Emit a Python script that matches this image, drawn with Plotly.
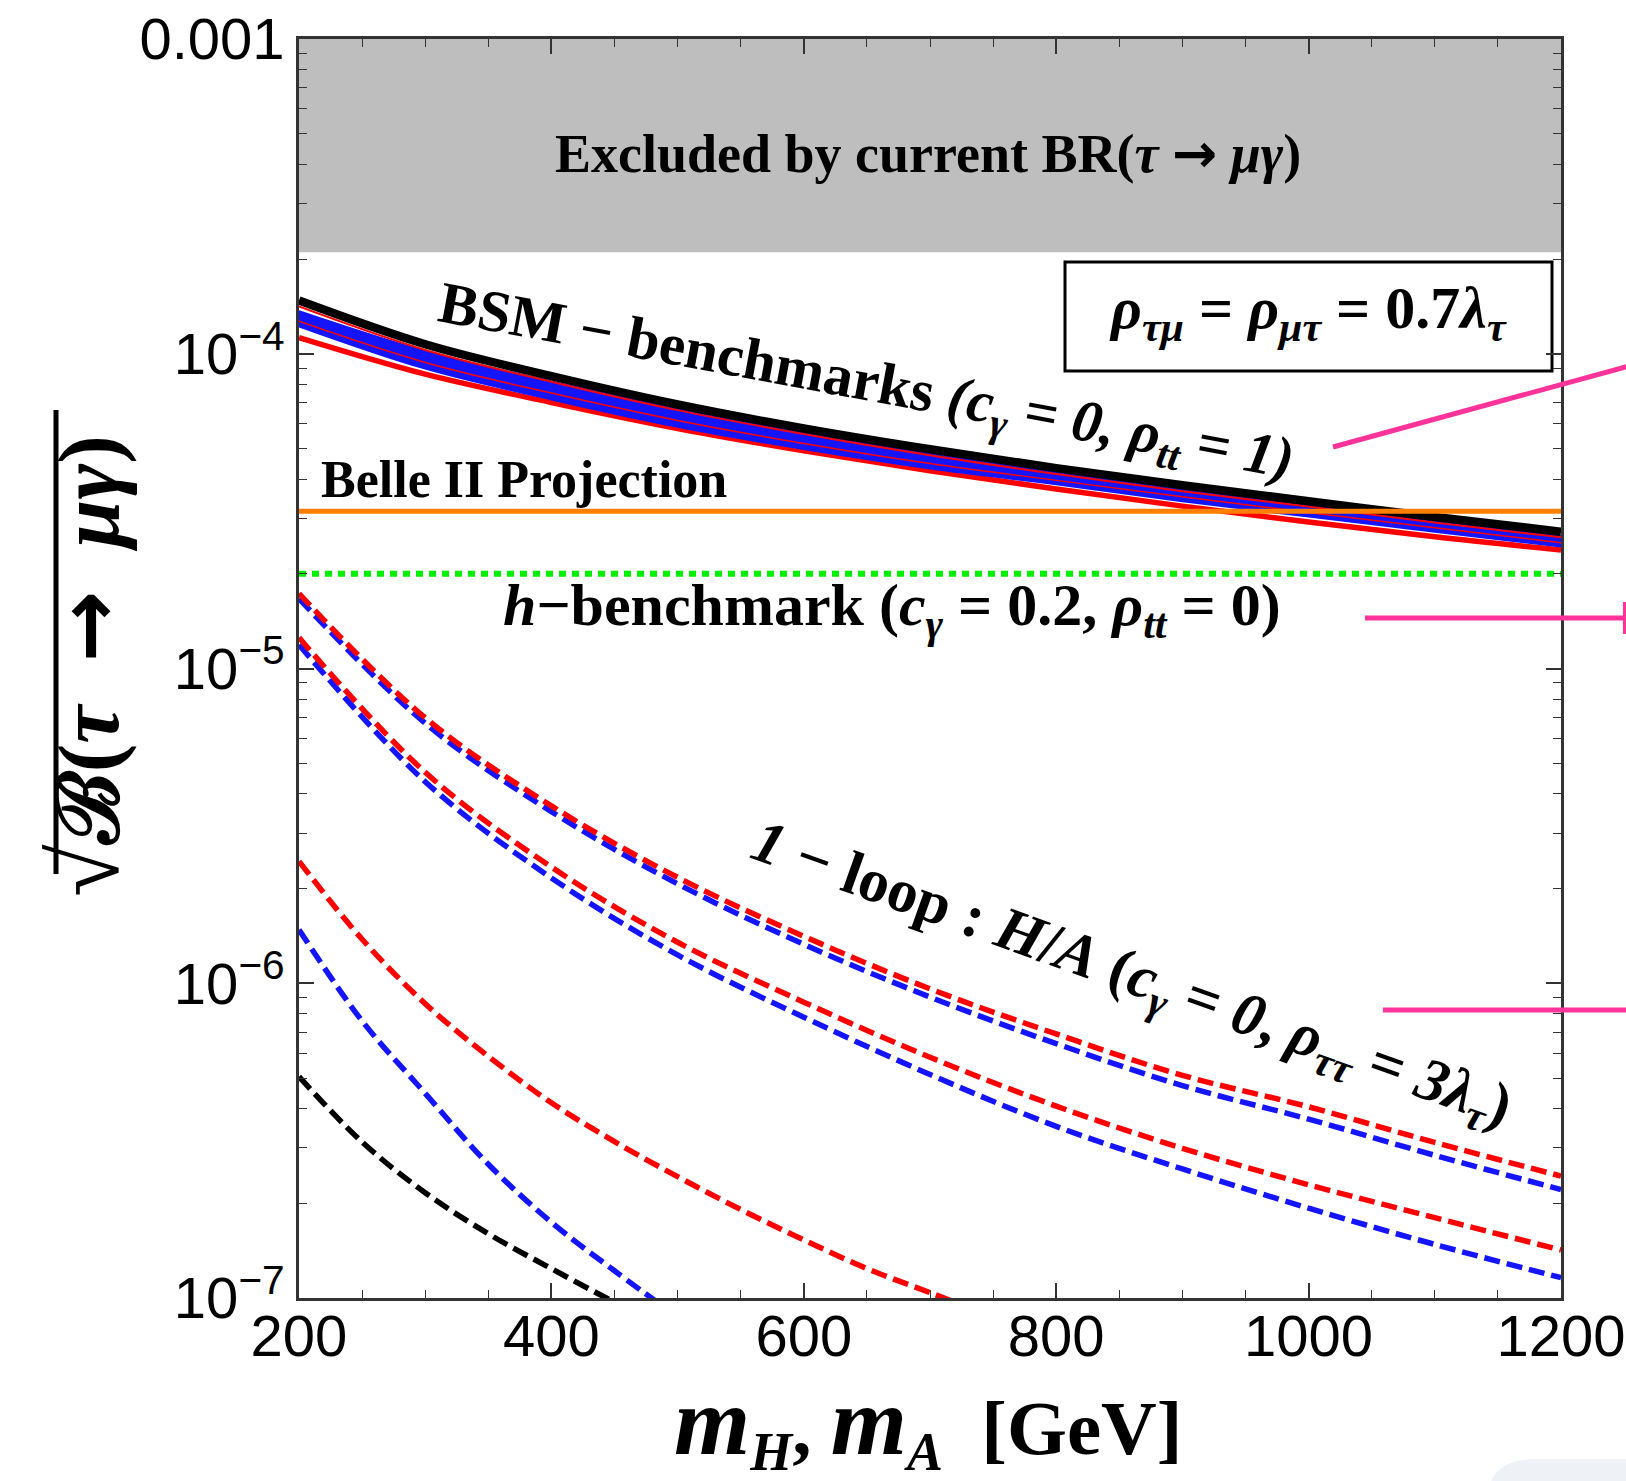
import plotly.graph_objects as go

# ---------------- data ----------------
mass = [200, 300, 400, 500, 600, 700, 800, 900, 1000, 1100, 1200]

# BSM benchmarks (solid)
bsm_black = [1.476e-4, 1.072e-4, 8.49e-5, 6.90e-5, 5.79e-5, 4.97e-5, 4.33e-5, 3.82e-5, 3.40e-5, 3.03e-5, 2.72e-5]
bsm_red_thick = [1.125e-4, 8.61e-5, 7.00e-5, 5.79e-5, 4.92e-5, 4.25e-5, 3.72e-5, 3.28e-5, 2.92e-5, 2.62e-5, 2.38e-5]
bsm_blue_top = [1.365e-4, 1.019e-4, 8.17e-5, 6.67e-5, 5.61e-5, 4.81e-5, 4.20e-5, 3.71e-5, 3.30e-5, 2.94e-5, 2.63e-5]
bsm_blue_bottom = [1.222e-4, 8.97e-5, 7.16e-5, 5.86e-5, 4.98e-5, 4.32e-5, 3.85e-5, 3.40e-5, 3.04e-5, 2.72e-5, 2.44e-5]
bsm_red_thin1 = [1.413e-4, 1.028e-4, 8.15e-5, 6.62e-5, 5.56e-5, 4.76e-5, 4.15e-5, 3.66e-5, 3.27e-5, 2.91e-5, 2.61e-5]
bsm_red_thin2 = [1.268e-4, 9.38e-5, 7.50e-5, 6.14e-5, 5.19e-5, 4.48e-5, 3.96e-5, 3.51e-5, 3.13e-5, 2.80e-5, 2.51e-5]

# 1-loop H/A curves (dashed)
loop_red_a = [1.73e-5, 6.97e-6, 3.66e-6, 2.17e-6, 1.41e-6, 9.6e-7, 6.9e-7, 5.1e-7, 4.05e-7, 3.12e-7, 2.44e-7]
loop_blue_a = [1.667e-5, 6.70e-6, 3.51e-6, 2.07e-6, 1.33e-6, 9.04e-7, 6.43e-7, 4.73e-7, 3.70e-7, 2.84e-7, 2.21e-7]
loop_red_b = [1.253e-5, 4.68e-6, 2.34e-6, 1.35e-6, 8.71e-7, 5.82e-7, 4.07e-7, 2.99e-7, 2.29e-7, 1.80e-7, 1.42e-7]
loop_blue_b = [1.19e-5, 4.37e-6, 2.16e-6, 1.23e-6, 7.80e-7, 5.13e-7, 3.51e-7, 2.57e-7, 1.93e-7, 1.48e-7, 1.16e-7]

mass_red_c = [200, 250, 300, 350, 400, 450, 500, 550, 600, 650, 700, 750]
loop_red_c = [2.44e-6, 1.38e-6, 8.61e-7, 5.86e-7, 4.17e-7, 3.14e-7, 2.43e-7, 1.91e-7, 1.53e-7, 1.24e-7, 1.04e-7, 8.7e-8]
mass_blue_c = [200, 250, 300, 350, 400, 450, 500]
loop_blue_c = [1.48e-6, 7.59e-7, 4.47e-7, 2.66e-7, 1.74e-7, 1.22e-7, 8.7e-8]
mass_black_c = [200, 250, 300, 350, 400, 450, 480]
loop_black_c = [5.05e-7, 3.13e-7, 2.16e-7, 1.60e-7, 1.24e-7, 9.7e-8, 8.5e-8]

# horizontal limits
excluded_limit = 2.1e-4      # sqrt(4.4e-8)
belle2_projection = 3.16e-5  # sqrt(1e-9)
h_benchmark = 2.0e-5
y_top = 1e-3
x_range = [200, 1200]

x_ticks = [200, 400, 600, 800, 1000, 1200]
y_ticks = [1e-7, 1e-6, 1e-5, 1e-4, 1e-3]
y_ticktext = ["10<sup>−7</sup>", "10<sup>−6</sup>", "10<sup>−5</sup>", "10<sup>−4</sup>", "0.001"]

# ---------------- layout geometry ----------------
W, H = 1626, 1481
PL, PR, PT, PB = 299, 1561, 39, 1298


def px(x):
    return (x - PL) / (PR - PL)


def py(y):
    return (PB - y) / (PB - PT)


RED = "#FF0000"
BLUE = "#1414FF"
PINK = "#FF3399"
SERIF = "Liberation Serif, DejaVu Serif, serif"
SANS = "Liberation Sans, Arial, sans-serif"
NB = "\u00a0"
ARROW = "<span style='font-family:DejaVu Sans'>→</span>"

fig = go.Figure()

# excluded region
fig.add_trace(go.Scatter(
    x=[x_range[0], x_range[1], x_range[1], x_range[0]],
    y=[excluded_limit, excluded_limit, y_top, y_top],
    fill="toself", fillcolor="#BEBEBE", line=dict(width=0), mode="lines",
    hoverinfo="skip"))

DASH = "16px,7px"
dashed = [
    (mass, loop_blue_b, BLUE), (mass, loop_red_b, RED),
    (mass, loop_blue_a, BLUE), (mass, loop_red_a, RED),
    (mass_red_c, loop_red_c, RED), (mass_blue_c, loop_blue_c, BLUE),
    (mass_black_c, loop_black_c, "#000000"),
]
for xs, ys, c in dashed:
    fig.add_trace(go.Scatter(x=xs, y=ys, mode="lines",
                             line=dict(color=c, width=5.5, dash=DASH, shape="spline")))

# BSM benchmark band
fig.add_trace(go.Scatter(x=mass, y=bsm_red_thick, mode="lines",
                         line=dict(color=RED, width=5.5, shape="spline")))
fig.add_trace(go.Scatter(x=mass, y=bsm_blue_bottom, mode="lines",
                         line=dict(color=BLUE, width=2, shape="spline")))
fig.add_trace(go.Scatter(x=mass, y=bsm_blue_top, mode="lines", fill="tonexty",
                         fillcolor=BLUE, line=dict(color=BLUE, width=2, shape="spline")))
fig.add_trace(go.Scatter(x=mass, y=bsm_red_thin2, mode="lines",
                         line=dict(color=RED, width=1.5, shape="spline")))
fig.add_trace(go.Scatter(x=mass, y=bsm_red_thin1, mode="lines",
                         line=dict(color=RED, width=2, shape="spline")))
fig.add_trace(go.Scatter(x=mass, y=bsm_black, mode="lines",
                         line=dict(color="#000000", width=8.5, shape="spline")))

# horizontal lines
fig.add_trace(go.Scatter(x=x_range, y=[belle2_projection] * 2, mode="lines",
                         line=dict(color="#FF7F00", width=5)))
fig.add_trace(go.Scatter(x=x_range, y=[h_benchmark] * 2, mode="lines",
                         line=dict(color="#00F000", width=6, dash="7px,6px")))

axis_common = dict(
    showline=True, linecolor="#333333", linewidth=2.5, mirror="allticks",
    ticks="inside", ticklen=15, tickwidth=1.5, tickcolor="#333333",
    showgrid=False, zeroline=False, automargin=False,
    tickfont=dict(family=SANS, size=58, color="#000000"),
)

fig.update_layout(
    width=W, height=H,
    margin=dict(l=PL, r=W - PR, t=PT, b=H - PB),
    paper_bgcolor="white", plot_bgcolor="white",
    showlegend=False,
    xaxis=dict(range=x_range, tickvals=x_ticks, ticklabelstandoff=-14,
               minor=dict(ticks="inside", ticklen=8, tickwidth=1.2, tickcolor="#333333",
                          dtick=50, tick0=200, showgrid=False),
               **axis_common),
    yaxis=dict(type="log", range=[-7, -3], tickvals=y_ticks, ticktext=y_ticktext,
               minor=dict(ticks="inside", ticklen=8, tickwidth=1.2, tickcolor="#333333",
                          dtick="D1", showgrid=False),
               **axis_common),
)

ann = []


def add_text(text, x, y, size, angle=0, xanchor="center", yanchor="middle"):
    ann.append(dict(text=text, x=px(x), y=py(y), xref="paper", yref="paper",
                    showarrow=False, textangle=angle, xanchor=xanchor, yanchor=yanchor,
                    font=dict(family=SERIF, size=size, color="#000000")))


EQ = f"{NB}={NB}"
add_text(f"<b>Excluded by current BR(<i>τ</i> {ARROW} <i>μγ</i>)</b>", 928, 153, 54)
add_text(f"<b>BSM − benchmarks <i>(c<sub>γ</sub>{EQ}0,{NB}ρ<sub>tt</sub>{EQ}1)</i></b>",
         866, 384, 59, angle=10.5)
add_text("<b>Belle II Projection</b>", 319, 479, 52, xanchor="left")
add_text(f"<b><i>h</i>−benchmark{NB}(<i>c<sub>γ</sub></i>{EQ}0.2,{NB}<i>ρ<sub>tt</sub></i>{EQ}0)</b>",
         892, 609, 60)
add_text(f"<b><i>1</i> − loop : <i>H</i>/<i>A</i>{NB}(<i>c<sub>γ</sub></i>{EQ}<i>0</i>,{NB}"
         f"<i>ρ<sub>ττ</sub></i>{EQ}<i>3λ<sub>τ</sub></i>)</b>",
         1131, 977, 61, angle=19.7)
add_text(f"<b><i>ρ<sub>τμ</sub></i>{EQ}<i>ρ<sub>μτ</sub></i>{EQ}0.7<i>λ<sub>τ</sub></i></b>", 1308, 313, 60)

# axis titles
add_text("<b><span style='font-size:98px'><i>m</i></span><i><sub>H</sub></i>, "
         "<span style='font-size:98px'><i>m</i></span><i><sub>A</sub></i>  [GeV]</b>",
         928, 1424, 77)
add_text(f"<b><span style='font-size:96px'>√</span>"
         f"ℬ(<i>τ</i>{NB}{NB}{ARROW}{NB}{NB}<i>μγ</i>)</b>", 85, 666, 86, angle=-90)

fig.update_layout(annotations=ann)

shapes = [
    # square-root overline of the y title
    dict(type="line", xref="paper", yref="paper", x0=px(56), x1=px(56), y0=py(874), y1=py(410),
         line=dict(color="#000000", width=5)),
    # legend box
    dict(type="rect", xref="paper", yref="paper", x0=px(1065), x1=px(1552), y0=py(371), y1=py(262),
         line=dict(color="#000000", width=3), fillcolor="white", layer="below"),
    # pink pointer lines (cut at the page edge)
    dict(type="line", xref="paper", yref="paper", x0=px(1333), y0=py(447), x1=px(1640), y1=py(363),
         line=dict(color=PINK, width=5)),
    dict(type="line", xref="paper", yref="paper", x0=px(1365), y0=py(618), x1=px(1640), y1=py(618),
         line=dict(color=PINK, width=5)),
    dict(type="line", xref="paper", yref="paper", x0=px(1625), y0=py(602), x1=px(1625), y1=py(634),
         line=dict(color=PINK, width=4)),
    dict(type="line", xref="paper", yref="paper", x0=px(1383), y0=py(1010), x1=px(1640), y1=py(1010),
         line=dict(color=PINK, width=5)),
    # corner panel
    dict(type="path", xref="paper", yref="paper",
         path=(f"M {px(1490)},{py(1485)} Q {px(1497)},{py(1459)} {px(1537)},{py(1459)} "
               f"L {px(1630)},{py(1459)} L {px(1630)},{py(1485)} Z"),
         line=dict(width=0), fillcolor="#EEF1F5"),
]
fig.update_layout(shapes=shapes)

fig.write_html("out.html")
